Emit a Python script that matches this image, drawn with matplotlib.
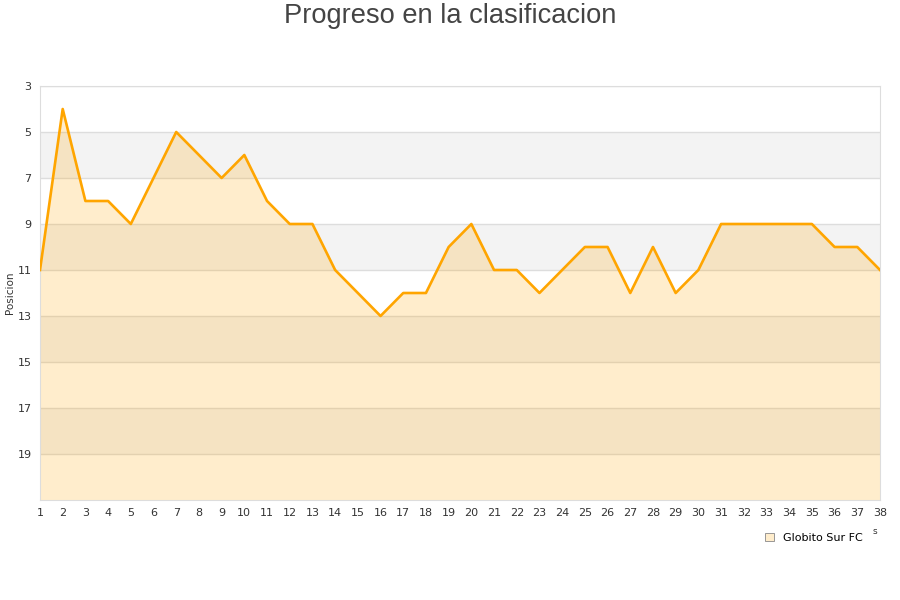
import matplotlib.pyplot as plt
from matplotlib.patches import Patch

jornadas = list(range(1, 39))
posiciones = [11, 4, 8, 8, 9, 7, 5, 6, 7, 6, 8, 9, 9, 11, 12, 13, 12, 12, 10, 9,
              11, 11, 12, 11, 10, 10, 12, 10, 12, 11, 9, 9, 9, 9, 9, 10, 10, 11]
y_ticks = [3, 5, 7, 9, 11, 13, 15, 17, 19]
equipo = 'Globito Sur FC'

fig = plt.figure(figsize=(9, 6), dpi=100)
ax = fig.add_axes([40 / 900, 100 / 600, 840 / 900, 414 / 600])

# alternating background bands
for lo in range(5, 21, 4):
    ax.axhspan(lo, lo + 2, color='#f3f3f3', zorder=0, lw=0)
for y in y_ticks:
    ax.axhline(y, color='#dddddd', lw=1, zorder=1)

ax.fill_between(jornadas, posiciones, 21, color='#ffa500', alpha=0.2, lw=0, zorder=2)
ax.plot(jornadas, posiciones, color='#ffa500', lw=1.9, zorder=3)

ax.set_xlim(1, 38)
ax.set_ylim(21, 3)
ax.set_xticks(jornadas)
ax.set_yticks(y_ticks)
ax.tick_params(length=0, labelsize=8, colors='#333333', pad=6)
for s in ax.spines.values():
    s.set_color('#dddddd')

ax.set_ylabel('Posicion', fontsize=7.5, color='#333333', labelpad=2)
fig.text(0.5, 1 - 16 / 600, 'Progreso en la clasificacion', ha='center', va='center',
         fontsize=19.6, color='#444444', family='Liberation Sans')

handle = Patch(facecolor='#ffedcc', edgecolor='#888888', lw=0.6)
fig.legend([handle], [equipo], loc='center left', bbox_to_anchor=(755 / 900, 1 - 538 / 600),
           frameon=False, fontsize=8, handlelength=0.8, handleheight=0.8, handletextpad=0.8)
fig.text(875 / 900, 1 - 531 / 600, 's', fontsize=6.5, color='#333333', ha='center', va='center')

fig.savefig('out.png', dpi=100)
